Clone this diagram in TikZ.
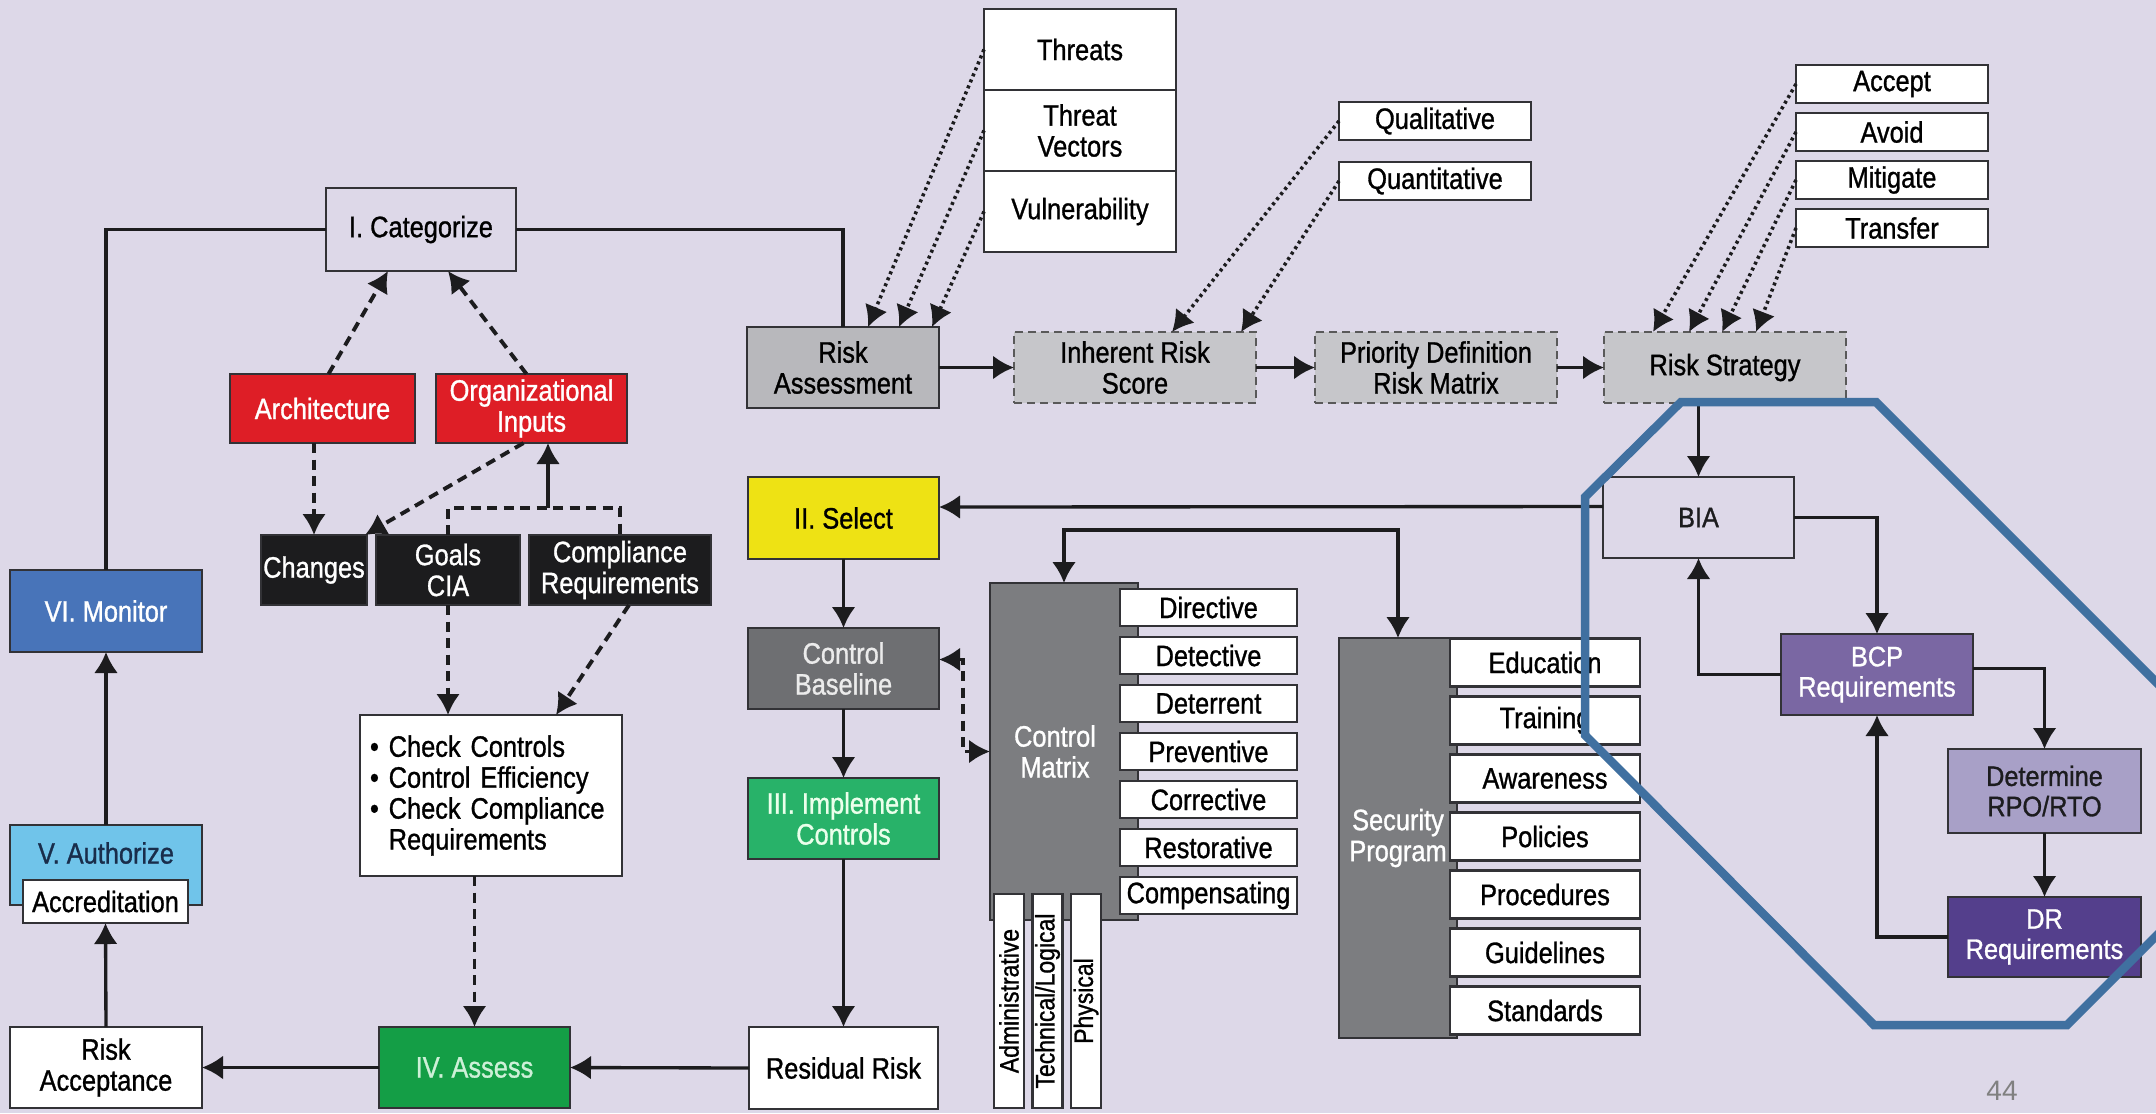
\documentclass[tikz,border=0pt]{standalone}
\usepackage{fontspec}
\setmainfont{Liberation Sans}[FakeStretch=0.86, FakeBold=1]
\newfontfamily\biafont{Liberation Sans}[FakeStretch=0.9, FakeBold=1]
\newfontfamily\pagefont{Liberation Sans}
\usepackage{tikz}
\usetikzlibrary{positioning, arrows.meta}

\definecolor{bgpurple}{RGB}{221,216,232}
\definecolor{archred}{RGB}{222,30,38}
\definecolor{inkblack}{RGB}{28,28,30}
\definecolor{monblue}{RGB}{72,116,185}
\definecolor{authblue}{RGB}{112,196,234}
\definecolor{authtext}{RGB}{25,45,75}
\definecolor{selyellow}{RGB}{238,226,20}
\definecolor{basegray}{RGB}{110,111,114}
\definecolor{implgreen}{RGB}{40,178,105}
\definecolor{assessgreen}{RGB}{20,158,70}
\definecolor{assesstext}{RGB}{205,240,215}
\definecolor{matrixgray}{RGB}{124,125,128}
\definecolor{riskgray}{RGB}{184,184,188}
\definecolor{dashgray}{RGB}{198,198,202}
\definecolor{bcppurple}{RGB}{122,103,163}
\definecolor{rpolilac}{RGB}{168,160,199}
\definecolor{drpurple}{RGB}{84,63,140}
\definecolor{octblue}{RGB}{64,112,160}
\definecolor{boxline}{RGB}{50,50,54}

\tikzset{
	bighead/.tip={Latex[length=2.1mm,width=2.4mm]},
	box/.style={draw=boxline, line width=0.6pt, inner sep=0pt, outer sep=0pt,
		align=center, font=\fontsize{8.4}{8.8}\selectfont,
		minimum width=1.91cm, minimum height=0.81cm},
	whitebox/.style={box, fill=white},
	blackbox/.style={box, fill=inkblack, text=white, minimum height=0.70cm},
	redbox/.style={box, fill=archred, text=white, minimum height=0.69cm},
	dashbox/.style={box, fill=dashgray, draw=gray!70!black, dash pattern=on 0.8mm off 0.5mm,
		minimum width=2.42cm, minimum height=0.71cm},
	smallbox/.style={whitebox, minimum width=1.92cm, minimum height=0.38cm},
	ctrlbox/.style={whitebox, minimum width=1.77cm, minimum height=0.37cm},
	progbox/.style={whitebox, minimum width=1.90cm, minimum height=0.48cm},
	vertbox/.style={whitebox, rotate=90, minimum width=2.14cm, minimum height=0.30cm,
		font=\fontsize{7.6}{8}\selectfont},
	biabox/.style={box, font=\biafont\fontsize{8}{8.6}\selectfont, minimum width=1.92cm},
	conn/.style={draw=inkblack, line width=0.95pt},
	arr/.style={conn, -bighead},
	both/.style={conn, bighead-bighead},
	dashline/.style={conn, line width=1.1pt, dash pattern=on 1mm off 0.65mm},
	dasharr/.style={dashline, -bighead},
	dotarr/.style={arr, line width=1pt, dash pattern=on 0.3mm off 0.35mm},
	octagon/.style={draw=octblue, line width=0.085cm, line join=miter}
}

\begin{document}
\begin{tikzpicture}
	% background
	\fill[bgpurple] (0,0) rectangle (21.56,-11.13);
	\useasboundingbox (0,0) rectangle (21.56,-11.13);

	% I. Categorize
	\node [box,
		minimum width=1.90cm,
		minimum height=0.83cm
		] (cat) at (4.21,-2.295) {I. Categorize};

	% Architecture and Organizational Inputs
	\node [redbox,
		minimum width=1.85cm
		] (arch) at (3.225,-4.085) {Architecture};
	\node [redbox,
		right=0.21cm of arch
		] (org) {Organizational\\Inputs};

	% Changes, Goals, Compliance
	\node [blackbox, minimum width=1.06cm] (chg) at (3.14,-5.70) {Changes};
	\node [blackbox, minimum width=1.44cm] (goals) at (4.48,-5.70) {Goals\\CIA};
	\node [blackbox, minimum width=1.82cm] (comp) at (6.20,-5.70) {Compliance\\Requirements};

	% left column
	\node [box,
		fill=monblue,
		text=white,
		minimum width=1.92cm,
		minimum height=0.82cm
		] (mon) at (1.06,-6.11) {VI. Monitor};
	\node [box,
		fill=authblue,
		text=authtext,
		minimum width=1.92cm,
		minimum height=0.80cm
		] (auth) at (1.06,-8.65) {\raisebox{1.2mm}[\height][\depth]{V. Authorize}};
	\node [whitebox,
		minimum width=1.65cm,
		minimum height=0.43cm
		] (accr) at (1.055,-9.015) {Accreditation};
	\node [whitebox,
		minimum width=1.92cm
		] (racc) at (1.06,-10.675) {Risk\\Acceptance};

	% Check box
	\node [whitebox,
		minimum width=2.62cm,
		minimum height=1.61cm,
		text width=2.42cm,
		inner xsep=0.10cm,
		align=left
		] (check) at (4.91,-7.955)
		{\textbullet\ Check Controls\\\textbullet\ Control Efficiency\\\textbullet\ Check Compliance\\\phantom{\textbullet\ }Requirements};

	% IV. Assess
	\node [box,
		fill=assessgreen,
		text=assesstext
		] (assess) at (4.745,-10.675) {IV. Assess};

	% middle column
	\node [box, fill=selyellow, minimum height=0.82cm] (sel) at (8.435,-5.18) {II. Select};
	\node [box, fill=basegray, text=white!92!black] (base) at (8.435,-6.685) {Control\\Baseline};
	\node [box, fill=implgreen, text=white!92!green] (impl) at (8.435,-8.185) {III. Implement\\Controls};
	\node [whitebox, minimum width=1.89cm, minimum height=0.82cm] (res) at (8.435,-10.68) {Residual Risk};

	% Risk Assessment
	\node [box,
		fill=riskgray,
		minimum width=1.92cm
		] (ra) at (8.43,-3.675) {Risk\\Assessment};

	% Threats
	\node [whitebox, minimum width=1.92cm] (threats) at (10.80,-0.495) {Threats};
	\node [whitebox, minimum width=1.92cm, below=0cm of threats] (vectors) {Threat\\Vectors};
	\node [whitebox, minimum width=1.92cm, below=0cm of vectors] (vuln) {Vulnerability};

	% Qualitative / Quantitative
	\node [smallbox] (qual) at (14.35,-1.21) {Qualitative};
	\node [smallbox, below=0.22cm of qual] (quant) {Quantitative};

	% risk chain
	\node [dashbox] (irs) at (11.35,-3.675) {Inherent Risk\\Score};
	\node [dashbox] (pd) at (14.36,-3.675) {Priority Definition\\Risk Matrix};
	\node [dashbox] (rs) at (17.25,-3.675) {Risk Strategy};

	% Strategy options
	\node [smallbox] (accept) at (18.92,-0.84) {Accept};
	\node [smallbox, below=0.10cm of accept] (avoid) {Avoid};
	\node [smallbox, below=0.10cm of avoid] (mitigate) {Mitigate};
	\node [smallbox, below=0.10cm of mitigate] (transfer) {Transfer};

	% Control Matrix
	\node [box,
		fill=matrixgray,
		text=white,
		minimum width=1.48cm,
		minimum height=3.37cm
		] (cm) at (10.64,-7.515) {\hspace*{-0.18cm}Control\\\hspace*{-0.18cm}Matrix};
	\node [ctrlbox] (directive) at (12.085,-6.075) {Directive};
	\node [ctrlbox, below=0.11cm of directive] (detective) {Detective};
	\node [ctrlbox, below=0.11cm of detective] (deterrent) {Deterrent};
	\node [ctrlbox, below=0.11cm of deterrent] (preventive) {Preventive};
	\node [ctrlbox, below=0.11cm of preventive] (corrective) {Corrective};
	\node [ctrlbox, below=0.11cm of corrective] (restorative) {Restorative};
	\node [ctrlbox, below=0.11cm of restorative] (compensating) {Compensating};
	\node [vertbox] (admin) at (10.09,-10.01) {Administrative};
	\node [vertbox] (tech) at (10.475,-10.01) {Technical/Logical};
	\node [vertbox] (phys) at (10.86,-10.01) {Physical};

	% Security Program
	\node [box,
		fill=matrixgray,
		text=white,
		minimum width=1.18cm,
		minimum height=4.00cm
		] (sp) at (13.98,-8.38) {Security\\Program};
	\node [progbox] (edu) at (15.45,-6.625) {Education};
	\node [progbox, below=0.10cm of edu] (train) {Training};
	\node [progbox, below=0.10cm of train] (aware) {Awareness};
	\node [progbox, below=0.10cm of aware] (pol) {Policies};
	\node [progbox, below=0.10cm of pol] (proc) {Procedures};
	\node [progbox, below=0.10cm of proc] (guide) {Guidelines};
	\node [progbox, below=0.10cm of guide] (stand) {Standards};

	% BIA block
	\node [biabox, text=inkblack, minimum width=1.91cm] (bia) at (16.985,-5.175) {BIA};
	\node [biabox, fill=bcppurple, text=white] (bcp) at (18.77,-6.745) {BCP\\Requirements};
	\node [biabox, fill=rpolilac, text=inkblack, minimum width=1.93cm, minimum height=0.84cm] (rpo) at (20.445,-7.91) {Determine\\RPO/RTO};
	\node [biabox, fill=drpurple, text=white, minimum width=1.93cm, minimum height=0.80cm] (dr) at (20.445,-9.37) {DR\\Requirements};

	% Arrows
	\draw[conn] (cat.west) -| (mon.north);
	\draw[conn] (cat.east) -| (ra.north);
	\draw[dasharr] ([xshift=0.06cm]arch.north) -- ([xshift=-0.33cm]cat.south);
	\draw[dasharr] ([xshift=-0.05cm]org.north) -- ([xshift=0.27cm]cat.south);
	\draw[dasharr] (arch.south -| chg.north) -- (chg.north);
	\draw[dasharr] ([xshift=-0.08cm]org.south) -- ([xshift=-0.02cm]chg.north east);
	\draw[dashline] (goals.north) -- ++(0,0.27) -| (comp.north);
	\coordinate (gcmid) at (5.48,-5.08);
	\draw[arr] (gcmid) -- (gcmid |- org.south);
	\draw[dasharr] (goals.south) -- (goals.south |- check.north);
	\draw[dasharr] ([xshift=0.09cm]comp.south) -- ([xshift=0.65cm]check.north);
	\draw[dasharr] (assess.north |- check.south) -- (assess.north);
	\draw[arr] (auth.north) -- (mon.south);
	\draw[arr] (racc.north) -- (accr.south);
	\draw[arr] (assess.west) -- (racc.east);
	\draw[arr] (res.west) -- (assess.east);
	\draw[arr] (sel.south) -- (base.north);
	\draw[arr] (base.south) -- (impl.north);
	\draw[arr] (impl.south) -- (res.north);
	\draw[arr] ([yshift=0.11cm]bia.west) -- ([yshift=0.11cm]sel.east);
	\draw[both] (cm.north) -- ++(0,0.53) -| (sp.north);
	\draw[dashline, bighead-bighead] ([yshift=0.09cm]base.east) -- ++(0.24,0) |- (cm.west);
	\draw[arr] (ra.east) -- (irs.west);
	\draw[arr] (irs.east) -- (pd.west);
	\draw[arr] (pd.east) -- (rs.west);
	\draw[dotarr] (threats.west) -- ([xshift=0.25cm]ra.north);
	\draw[dotarr] (vectors.west) -- ([xshift=0.56cm]ra.north);
	\draw[dotarr] (vuln.west) -- ([xshift=0.89cm]ra.north);
	\draw[dotarr] (qual.west) -- ([xshift=0.37cm]irs.north);
	\draw[dotarr] (quant.west) -- ([xshift=1.06cm]irs.north);
	\draw[dotarr] (accept.west) -- ([xshift=-0.72cm]rs.north);
	\draw[dotarr] (avoid.west) -- ([xshift=-0.36cm]rs.north);
	\draw[dotarr] (mitigate.west) -- ([xshift=-0.03cm]rs.north);
	\draw[dotarr] (transfer.west) -- ([xshift=0.31cm]rs.north);
	\draw[arr] (bia.north |- rs.south) -- (bia.north);
	\draw[arr] (bia.east) -| (bcp.north);
	\draw[arr] (bcp.west) -| (bia.south);
	\draw[arr] ([yshift=0.06cm]bcp.east) -| (rpo.north);
	\draw[arr] (rpo.south) -- (dr.north);
	\draw[arr] (dr.west) -| (bcp.south);

	% octagon
	\begin{scope}
		\clip (0,0) rectangle (21.56,-11.13);
		\draw[octagon] (16.81,-4.02) -- (18.76,-4.02) -- (22.20,-7.46) -- (22.20,-8.72)
			-- (20.67,-10.25) -- (18.74,-10.25) -- (15.85,-7.35) -- (15.85,-4.97) -- cycle;
	\end{scope}

	% page number
	\node [text=gray, font=\pagefont\fontsize{8}{9}\selectfont] (pagenum) at (20.02,-10.91) {44};
\end{tikzpicture}
\end{document}
